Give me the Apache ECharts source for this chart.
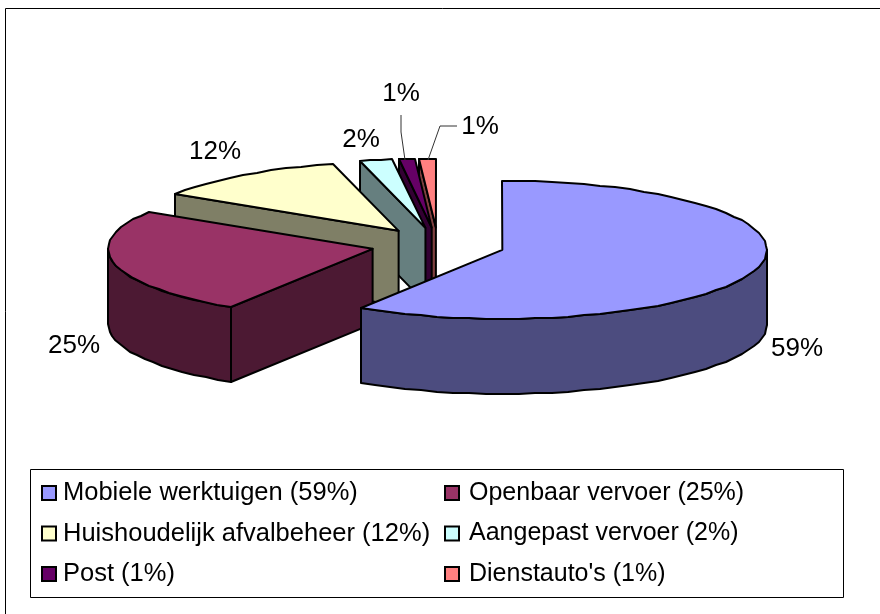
<!DOCTYPE html>
<html>
<head>
<meta charset="utf-8">
<style>
  html, body { margin: 0; padding: 0; background: #fff; }
  #chart { width: 880px; height: 614px; }
</style>
<script src="https://cdn.jsdelivr.net/npm/echarts@6/dist/echarts.min.js"></script>
</head>
<body>
<div id="chart"></div>
<script>
const categories = ['Mobiele werktuigen', 'Openbaar vervoer', 'Huishoudelijk afvalbeheer', 'Aangepast vervoer', 'Post', "Dienstauto's"]
const shares = [59, 25, 12, 2, 1, 1]
const topColors = ['#9999ff', '#993366', '#ffffcc', '#ccffff', '#660066', '#ff8080']
const sideColors = ['#4c4c7f', '#4c1933', '#7f7f66', '#667f7f', '#330033', '#7f4040']

// pie projection
const cx = 438
const cy = 245
const rx = 264.5
const ry = 69
const depth = 75
const explode = 67

const total = shares.reduce((a, b) => a + b, 0)
const legendName = i => `${categories[i]} (${shares[i]}%)`

// start and end angle of every slice, clockwise from 12 o'clock
let acc = 0
const angles = shares.map(v => {
  const start = acc / total * 360
  acc += v
  return [start, acc / total * 360]
})

const rad = d => d * Math.PI / 180

function renderSlice (index, api) {
  const [start, end] = angles[index]
  const mid = rad((start + end) / 2)
  const ax = cx + explode * Math.sin(mid)
  const ay = cy - explode * Math.cos(mid) * ry / rx
  const rim = d => [Math.round(ax + rx * Math.sin(rad(d))), Math.round(ay - ry * Math.cos(rad(d)))]
  const down = p => [p[0], p[1] + depth]
  const arc = (a, b) => {
    const pts = []
    const n = Math.max(1, Math.ceil((b - a) / 3.6))
    for (let i = 0; i <= n; i++) pts.push(rim(a + (b - a) * i / n))
    return pts
  }
  const face = (points, fill) => ({
    type: 'polygon',
    shape: { points },
    style: { fill, stroke: '#000', lineWidth: 2, lineJoin: 'round' }
  })
  const apex = [ax, ay]
  const side = sideColors[index]
  const children = []
  // radial walls that face the viewer
  if (Math.sin(rad(start)) < -1e-6) {
    const p = rim(start)
    children.push(face([apex, p, down(p), down(apex)], side))
  }
  if (Math.sin(rad(end)) > 1e-6) {
    const p = rim(end)
    children.push(face([apex, p, down(p), down(apex)], side))
  }
  // outer wall, front half of the ellipse only
  const from = Math.max(start, 90)
  const to = Math.min(end, 270)
  if (to > from) {
    const pts = arc(from, to)
    children.push(face(pts.concat(pts.map(down).reverse()), side))
  }
  children.push(face([apex].concat(arc(start, end)), topColors[index]))
  return { type: 'group', children }
}

// drawn back to front: last slice first
const pieSeries = categories.map((c, i) => i).reverse().map((i, order) => ({
  type: 'custom',
  name: legendName(i),
  coordinateSystem: 'none',
  z: 2 + order,
  silent: true,
  itemStyle: { color: topColors[i] },
  data: [shares[i]],
  renderItem: (params, api) => renderSlice(i, api)
}))

const labelPos = [[797, 349], [74, 346], [215, 152], [361, 140], [401, 94], [480, 127]]
const labels = shares.map((v, i) => ({
  type: 'text',
  x: labelPos[i][0],
  y: labelPos[i][1],
  z: 20,
  style: {
    text: v + '%',
    font: '26px "Liberation Sans"',
    fill: '#000',
    align: 'center',
    verticalAlign: 'middle'
  }
}))

const leader = points => ({
  type: 'polyline',
  z: 20,
  shape: { points },
  style: { stroke: '#333', lineWidth: 1, fill: null }
})

const legendCol = (left, idx, fontSize, pad) => ({
  orient: 'vertical',
  left,
  top: 480,
  icon: 'rect',
  itemWidth: 14,
  itemHeight: 14,
  itemGap: 14.5,
  padding: 0,
  selectedMode: false,
  itemStyle: { borderColor: '#000', borderWidth: 2 },
  textStyle: { fontFamily: 'Liberation Sans', fontSize, color: '#000', padding: [0, 0, 0, pad], lineHeight: 26 },
  data: idx.map(legendName)
})

const chart = echarts.init(document.getElementById('chart'), null, { renderer: 'canvas' })
chart.setOption({
  animation: false,
  backgroundColor: '#fff',
  legend: [legendCol(41, [0, 2, 4], 25.5, 2), legendCol(444, [1, 3, 5], 25, 5)],
  graphic: [
    {
      type: 'polyline', z: 0,
      shape: { points: [[5.5, 614], [5.5, 8.5], [880, 8.5]] },
      style: { fill: null, stroke: '#000', lineWidth: 1 }
    },
    {
      type: 'rect', z: 0,
      shape: { x: 30.5, y: 469.5, width: 813, height: 128 },
      style: { fill: null, stroke: '#000', lineWidth: 1 }
    },
    leader([[401, 115], [401, 132], [405, 160]]),
    leader([[457, 126], [440, 126], [428, 160]])
  ].concat(labels),
  series: pieSeries
})
</script>
</body>
</html>
